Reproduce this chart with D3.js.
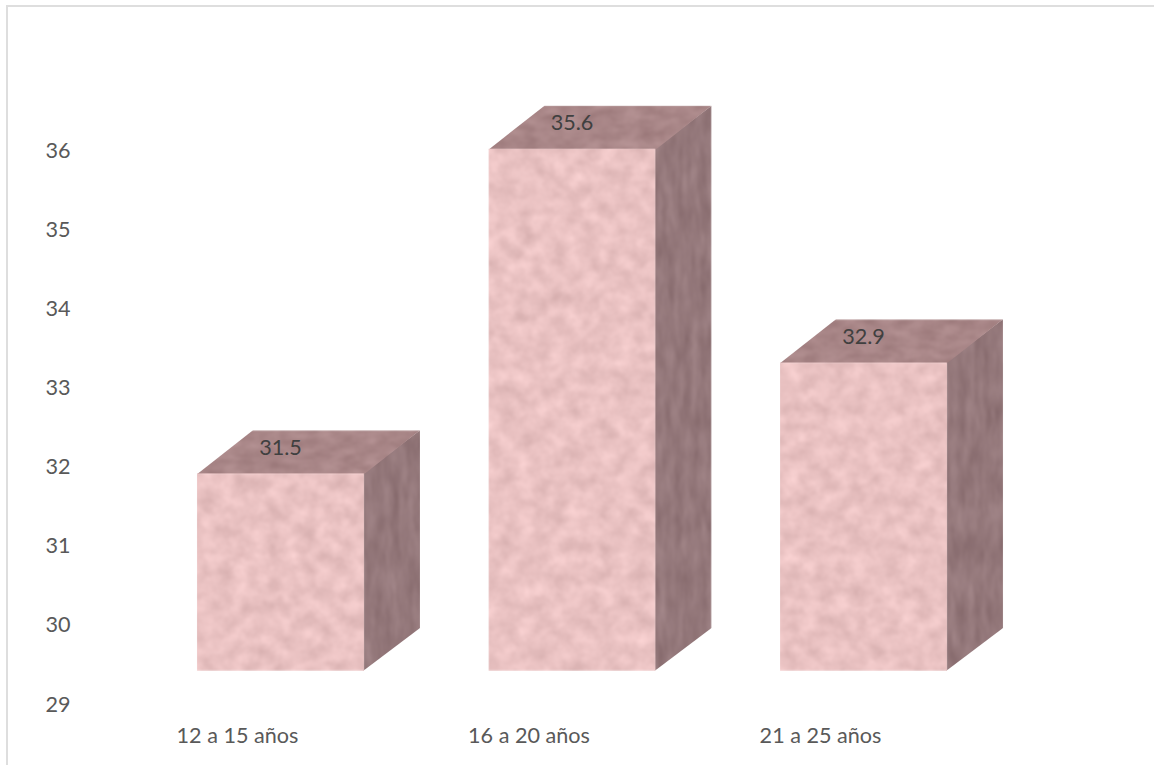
<!DOCTYPE html>
<html>
<head>
<meta charset="utf-8">
<script src="https://cdn.jsdelivr.net/npm/d3@7"></script>
<style>
  html, body { margin: 0; padding: 0; background: #fff; }
  svg { display: block; }
  text { font-family: Lato, "Open Sans", sans-serif; font-size: 21.6px; }
</style>
</head>
<body>
<svg id="chart" width="1154" height="765"></svg>
<script>
const categories = ["12 a 15 años", "16 a 20 años", "21 a 25 años"];
const values = [31.5, 35.6, 32.9];
const tickValues = [29, 30, 31, 32, 33, 34, 35, 36];

const svg = d3.select("#chart");

// Front plane of the 3D columns; the extruded depth runs up and to the right.
const depthX = 56, depthY = 43;
const y = d3.scaleLinear().domain([29, 36]).range([671, 117]);
const tickShift = 33;   // value axis sits on the lower front edge of the floor
const x = d3.scaleBand().domain(categories).range([72.5, 1071.5]).paddingInner(0.427).paddingOuter(0.427);

// Marble-like surface textures, one per face orientation.
const defs = svg.append("defs");
function marble(id, freq, octaves, seed, base, amp) {
  const f = defs.append("filter").attr("id", id)
    .attr("x", 0).attr("y", 0).attr("width", 1).attr("height", 1)
    .attr("color-interpolation-filters", "sRGB");
  f.append("feTurbulence").attr("type", "fractalNoise")
    .attr("baseFrequency", freq).attr("numOctaves", octaves).attr("seed", seed).attr("result", "n");
  const row = (c) => `${amp[0]} ${amp[1]} 0 0 ${c}`;
  f.append("feColorMatrix").attr("in", "n").attr("type", "matrix")
    .attr("values", `${row(base[0])}  ${row(base[1])}  ${row(base[2])}  0 0 0 0 1`)
    .attr("result", "c");
  f.append("feGaussianBlur").attr("in", "c").attr("stdDeviation", 1).attr("result", "b");
  f.append("feComposite").attr("in", "b").attr("in2", "SourceAlpha").attr("operator", "in");
}
marble("tex-front", "0.06 0.065", 4, 7, [0.81, 0.655, 0.655], [0.17, 0.04]);
marble("tex-top", "0.05 0.1", 3, 11, [0.575, 0.44, 0.445], [0.14, 0.03]);
marble("tex-side", "0.12 0.03", 3, 23, [0.495, 0.385, 0.395], [0.14, 0.03]);

// Frame edges along the top and the left.
const frameColor = "#dedede";
svg.append("line").attr("x1", 7).attr("x2", 1154).attr("y1", 6).attr("y2", 6)
  .attr("stroke", frameColor).attr("stroke-width", 2);
svg.append("line").attr("x1", 7).attr("x2", 7).attr("y1", 5).attr("y2", 765)
  .attr("stroke", frameColor).attr("stroke-width", 2);

// Columns
const bars = svg.append("g").selectAll("g")
  .data(categories.map((c, i) => ({ c, v: values[i] })))
  .join("g");

const pts = (a) => a.map(p => p.join(",")).join(" ");

bars.append("polygon")
  .attr("points", d => {
    const x0 = x(d.c) + x.bandwidth() - 1, t = y(d.v), b = y(29);
    return pts([[x0, t], [x0 + depthX + 1, t - depthY], [x0 + depthX + 1, b - depthY], [x0, b]]);
  })
  .attr("fill", "#947b7d").attr("filter", "url(#tex-side)");

bars.append("polygon")
  .attr("points", d => {
    const x0 = x(d.c), x1 = x0 + x.bandwidth(), t = y(d.v) + 1;
    return pts([[x0, t], [x1, t], [x1 + depthX, t - depthY - 1], [x0 + depthX, t - depthY - 1]]);
  })
  .attr("fill", "#a98a8b").attr("filter", "url(#tex-top)");

bars.append("rect")
  .attr("x", d => x(d.c)).attr("width", x.bandwidth())
  .attr("y", d => y(d.v)).attr("height", d => y(29) - y(d.v))
  .attr("fill", "#e9c2c3").attr("filter", "url(#tex-front)");

// Value labels resting on the top faces
bars.append("text")
  .attr("x", d => x(d.c) + x.bandwidth() / 2)
  .attr("y", d => y(d.v) - depthY + 17)
  .attr("dy", "0.35em")
  .attr("text-anchor", "middle")
  .attr("fill", "#404040")
  .text(d => d.v.toFixed(1));

// Value axis labels
svg.append("g").selectAll("text").data(tickValues).join("text")
  .attr("x", 58).attr("y", d => y(d) + tickShift)
  .attr("dy", "0.35em")
  .attr("text-anchor", "middle")
  .attr("fill", "#595959")
  .text(d => d);

// Category labels
svg.append("g").selectAll("text").data(categories).join("text")
  .attr("x", d => x(d) + x.bandwidth() / 2 - 43)
  .attr("y", 735)
  .attr("dy", "0.35em")
  .attr("text-anchor", "middle")
  .attr("fill", "#595959")
  .text(d => d);
</script>
</body>
</html>
